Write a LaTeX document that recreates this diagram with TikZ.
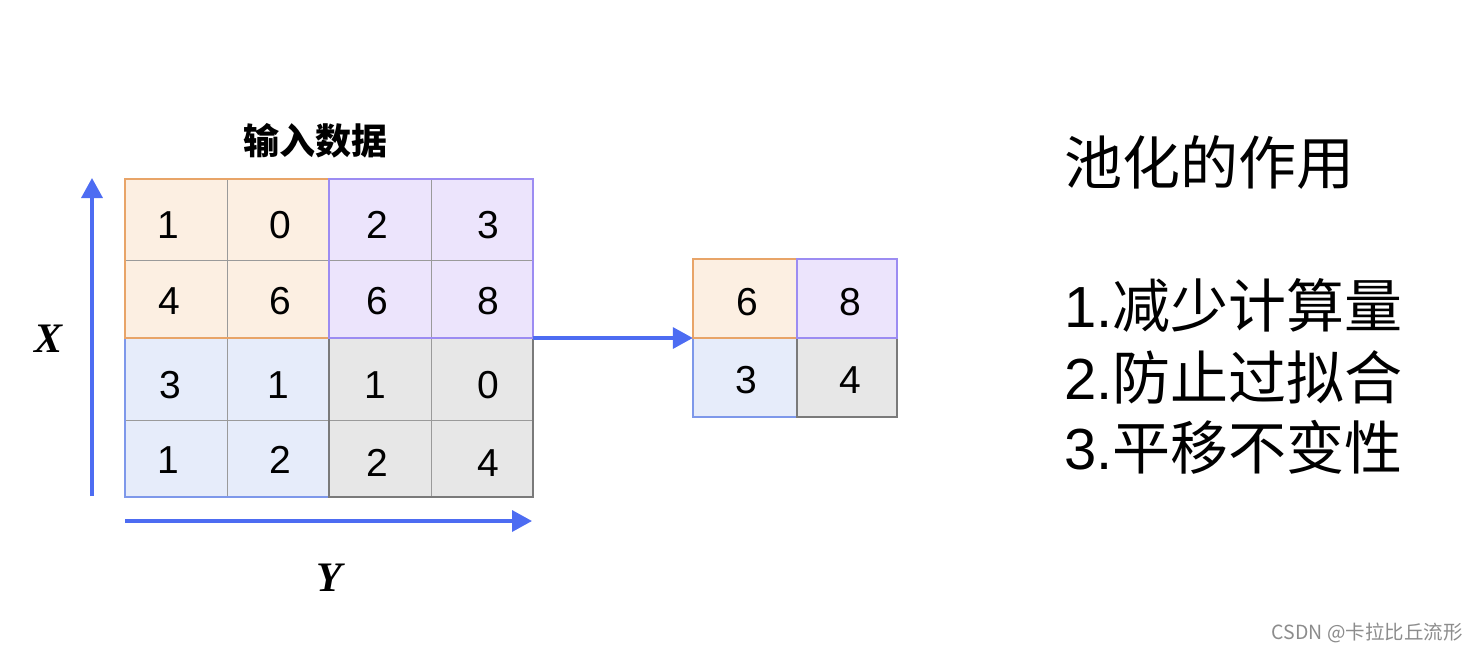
\documentclass[tikz,border=0pt]{standalone}
\usepackage{fontspec}
\setmainfont{Liberation Sans}
\newfontfamily\cjk{Noto Sans CJK SC}
\newfontfamily\tnr{Liberation Serif}
\newfontfamily\lat{Liberation Sans}
\usetikzlibrary{arrows.meta}
\definecolor{fOr}{HTML}{FCEFE2}
\definecolor{fPu}{HTML}{ECE4FC}
\definecolor{fBl}{HTML}{E6ECFA}
\definecolor{fGr}{HTML}{E7E7E7}
\definecolor{bOr}{HTML}{E8A468}
\definecolor{bPu}{HTML}{9C8CF2}
\definecolor{bBl}{HTML}{7E98EA}
\definecolor{bGr}{HTML}{7A7A7A}
\definecolor{inner}{HTML}{9A9A9A}
\definecolor{arrblue}{HTML}{4D6CF2}
\tikzset{
  num/.style={font=\fontsize{39}{41}\selectfont, inner sep=0pt, anchor=center},
  arr/.style={draw=arrblue, line width=3.5pt, -{Triangle[length=20pt,width=21pt]}},
  quadline/.style={line width=1.3pt},
  cellline/.style={draw=inner, line width=0.9pt},
  axlabel/.style={font=\tnr\bfseries\itshape\fontsize{42}{44}\selectfont, inner sep=0pt},
  rtext/.style={font=\cjk\fontsize{58}{62}\selectfont, inner sep=0pt, anchor=west},
}
\begin{document}
\begin{tikzpicture}[x=1pt,y=-1pt]
\useasboundingbox (0,0) rectangle (1477,654);
\fill[white] (0,0) rectangle (1477,654);
% input grid fills
\fill[fOr] (125,179) rectangle (329,338);
\fill[fPu] (329,179) rectangle (533,338);
\fill[fBl] (125,338) rectangle (329,497);
\fill[fGr] (329,338) rectangle (533,497);
% inner cell lines
\draw[cellline] (227,179) -- (227,497);
\draw[cellline] (431,179) -- (431,497);
\draw[cellline] (125,260) -- (533,260);
\draw[cellline] (125,420) -- (533,420);
% quadrant borders
\draw[quadline, draw=bBl] (125,338) rectangle (329,497);
\draw[quadline, draw=bGr] (329,338) rectangle (533,497);
\draw[quadline, draw=bOr] (125,179) rectangle (329,338);
\draw[quadline, draw=bPu] (329,179) rectangle (533,338);
\node[minimum width=408pt, minimum height=318pt, inner sep=0pt] (grid) at (329,338) {};
% numbers
\node[num] (a11) at (168,225) {1};
\node[num] (a12) at (280,225) {0};
\node[num] (a13) at (377,225) {2};
\node[num] (a14) at (488,225) {3};
\node[num] (a21) at (169,301) {4};
\node[num] (a22) at (280,301) {6};
\node[num] (a23) at (377,301) {6};
\node[num] (a24) at (488,301) {8};
\node[num] (a31) at (170,385) {3};
\node[num] (a32) at (278,385) {1};
\node[num] (a33) at (375,385) {1};
\node[num] (a34) at (488,385) {0};
\node[num] (a41) at (168,460) {1};
\node[num] (a42) at (280,460) {2};
\node[num] (a43) at (377,463) {2};
\node[num] (a44) at (488,463) {4};
% title
\node[font=\cjk\bfseries\fontsize{36}{38}\selectfont, inner sep=0pt] (title) at (315,141) {输入数据};
% axes
\coordinate (ya0) at (92,496);
\coordinate (ya1) at (92,178);
\coordinate (xa0) at (125,521);
\coordinate (xa1) at (532,521);
\draw[arr] (ya0) -- (ya1);
\draw[arr] (xa0) -- (xa1);
\node[axlabel] (xl) at (49,339) {X};
\node[axlabel] (yl) at (329,578) {Y};
% output grid
\fill[fOr] (693,259) rectangle (797,338);
\fill[fPu] (797,259) rectangle (897,338);
\fill[fBl] (693,338) rectangle (797,417);
\fill[fGr] (797,338) rectangle (897,417);
\draw[quadline, draw=bBl] (693,338) rectangle (797,417);
\draw[quadline, draw=bGr] (797,338) rectangle (897,417);
\draw[quadline, draw=bOr] (693,259) rectangle (797,338);
\draw[quadline, draw=bPu] (797,259) rectangle (897,338);
\node[minimum width=204pt, minimum height=158pt, inner sep=0pt] (out) at (795,338) {};
\node[num] (b11) at (747,302) {6};
\node[num] (b12) at (850,302) {8};
\node[num] (b21) at (746,380) {3};
\node[num] (b22) at (850,380) {4};
% connector
\draw[arr] (grid.east) -- (out.west);
% right text
\node[rtext] (t0) at (1064,162) {池化的作用};
\node[rtext] (t1) at (1064,305) {{\lat 1.}减少计算量};
\node[rtext] (t2) at (1064,377) {{\lat 2.}防止过拟合};
\node[rtext] (t3) at (1064,447) {{\lat 3.}平移不变性};
% watermark
\node[font=\cjk\fontsize{19.5}{21}\selectfont, text=black!45, inner sep=0pt, anchor=east] (wm) at (1463,633) {CSDN @卡拉比丘流形};
\end{tikzpicture}
\end{document}
